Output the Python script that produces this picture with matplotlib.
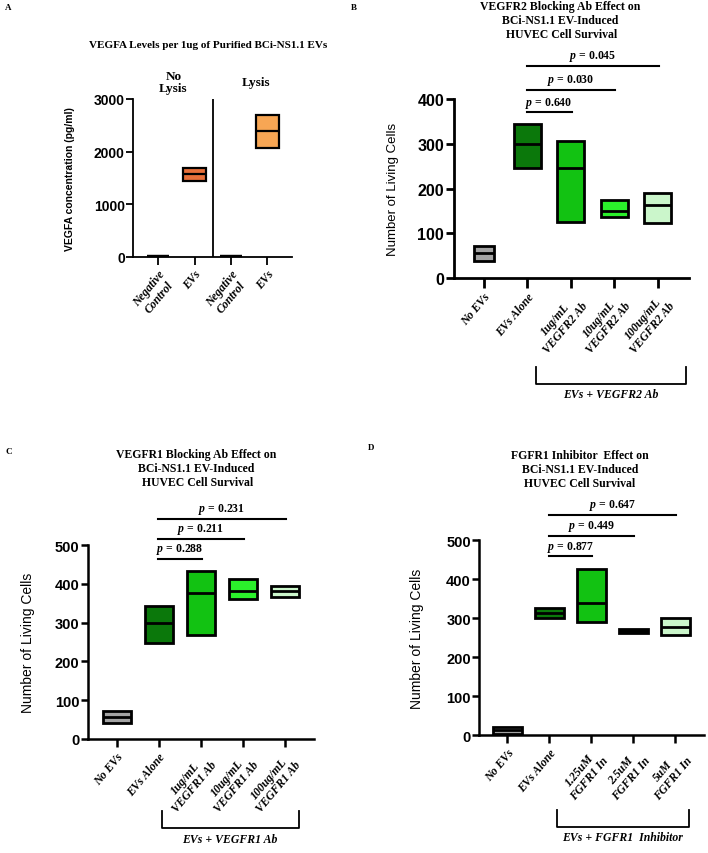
import matplotlib
matplotlib.use('Agg')
import matplotlib.pyplot as plt
import matplotlib.transforms as mtransforms

plt.rcParams['mathtext.fontset'] = 'custom'
plt.rcParams['mathtext.bfit'] = 'Liberation Serif:bold:italic'
plt.rcParams['mathtext.it'] = 'Liberation Serif:italic'
plt.rcParams['mathtext.rm'] = 'Liberation Serif:bold'

SERIF = 'Liberation Serif'
SANS = 'Liberation Sans'

# ---- panel A : VEGFA levels
a_title = 'VEGFA Levels per 1ug of Purified BCi-NS1.1 EVs'
a_labels = ['Negative\nControl', 'EVs', 'Negative\nControl', 'EVs']
a_low = [10, 1440, 10, 2070]
a_high = [25, 1690, 25, 2700]
a_mid = [18, 1565, 18, 2385]
a_colors = ['#000000', '#E8703A', '#000000', '#F7A654']
a_groups = ['No\nLysis', 'Lysis']

# ---- panel B : VEGFR2 blocking
b_title = 'VEGFR2 Blocking Ab Effect on\nBCi-NS1.1 EV-Induced\n HUVEC Cell Survival'
b_labels = ['No EVs', 'EVs Alone', '1ug/mL\nVEGFR2 Ab', '10ug/mL\nVEGFR2 Ab', '100ug/mL\nVEGFR2 Ab']
b_low = [39, 246, 126, 136, 124]
b_high = [72, 343, 307, 174, 190]
b_mid = [56, 299, 246, 150, 163]
b_p = ['0.640', '0.030', '0.045']
b_p_y = [370, 421, 474]
b_bracket = 'EVs + VEGFR2 Ab'

# ---- panel C : VEGFR1 blocking
c_title = 'VEGFR1 Blocking Ab Effect on\nBCi-NS1.1 EV-Induced\n HUVEC Cell Survival'
c_labels = ['No EVs', 'EVs Alone', '1ug/mL\nVEGFR1 Ab', '10ug/mL\nVEGFR1 Ab', '100ug/mL\nVEGFR1 Ab']
c_low = [41, 247, 268, 361, 367]
c_high = [72, 343, 434, 412, 395]
c_mid = [56, 300, 376, 382, 381]
c_p = ['0.288', '0.211', '0.231']
c_p_y = [464, 517, 568]
c_bracket = 'EVs + VEGFR1 Ab'

# ---- panel D : FGFR1 inhibitor
d_title = 'FGFR1 Inhibitor  Effect on\nBCi-NS1.1 EV-Induced\nHUVEC Cell Survival'
d_labels = ['No EVs', 'EVs Alone', '1.25uM\nFGFR1 In', '2.5uM\nFGFR1 In', '5uM\nFGFR1 In']
d_low = [2, 300, 289, 261, 257]
d_high = [22, 327, 425, 273, 299]
d_mid = [12, 313, 338, 267, 278]
d_p = ['0.877', '0.449', '0.647']
d_p_y = [458, 510, 565]
d_bracket = 'EVs + FGFR1  Inhibitor'

p_from = [1, 1, 1]
p_to = [2, 3, 4]

green_colors = ['#A3A3A3', '#0B780B', '#12C212', '#2BF02B', '#CBF6CB']


def style_axis(ax, lw, ticklen, fs):
    ax.spines['top'].set_visible(False)
    ax.spines['right'].set_visible(False)
    ax.spines['left'].set_linewidth(lw)
    ax.spines['bottom'].set_linewidth(lw)
    ax.tick_params(axis='y', length=ticklen, width=lw, pad=1, labelsize=fs)
    ax.tick_params(axis='x', length=ticklen + 1, width=lw, pad=2)
    for t in ax.get_yticklabels():
        t.set_fontfamily(SANS)
        t.set_fontweight('bold')


def floating_bars(ax, low, high, mid, colors, width, lw):
    pos = list(range(len(low)))
    heights = [h - l for l, h in zip(low, high)]
    ax.bar(pos, heights, bottom=low, width=width, color=colors,
           edgecolor='black', linewidth=lw, clip_on=False, zorder=3)
    for i in pos:
        w = width[i] if isinstance(width, list) else width
        ax.plot([i - w / 2, i + w / 2], [mid[i], mid[i]], color='black',
                lw=lw, solid_capstyle='butt', clip_on=False, zorder=4)


def xlabels(ax, labels, fs, rot):
    ax.set_xticks(range(len(labels)))
    ax.set_xticklabels(labels, rotation=rot, ha='right', rotation_mode='anchor',
                       fontfamily=SERIF, fontweight='bold', fontstyle='italic',
                       fontsize=fs, multialignment='center', linespacing=1.1)


def pvalues(ax, texts, ys):
    for t, y, i0, i1 in zip(texts, ys, p_from, p_to):
        x0 = i0 - 0.02
        x1 = i1 + 0.02
        ax.plot([x0, x1], [y, y], color='black', lw=1.5, clip_on=False)
        ax.annotate(r'$\mathbfit{p}$ = ' + t, xy=((x0 + x1) / 2, y), xytext=(0, 2),
                    textcoords='offset points', ha='center', va='bottom',
                    fontfamily=SERIF, fontweight='bold', fontsize=8.5,
                    annotation_clip=False)


def bracket(ax, x0, x1, ytop, ybot, ytext, text):
    tr = mtransforms.blended_transform_factory(ax.transData, ax.transAxes)
    ax.plot([x0, x0, x1, x1], [ytop, ybot, ybot, ytop], color='black', lw=1.3,
            transform=tr, clip_on=False)
    ax.text((x0 + x1) / 2, ytext, text, transform=tr, ha='center', va='top',
            fontfamily=SERIF, fontweight='bold', fontstyle='italic', fontsize=8.5)


fig = plt.figure(figsize=(7.08, 8.54), dpi=100)

# ---------------- A
axA = fig.add_axes([0.188, 0.698, 0.225, 0.185])
floating_bars(axA, a_low, a_high, a_mid, a_colors, 0.62, 1.6)
axA.set_xlim(-0.69, 3.69)
axA.set_ylim(0, 3000)
axA.set_yticks([0, 1000, 2000, 3000])
axA.axvline(1.5, color='black', lw=1.3)
style_axis(axA, 1.3, 5, 10)
xlabels(axA, a_labels, 8.5, 50)
axA.set_ylabel('VEGFA concentration (pg/ml)', fontfamily=SANS, fontweight='bold', fontsize=7.5)
axA.yaxis.set_label_coords(-0.365, 0.5)
trA = mtransforms.blended_transform_factory(axA.transData, axA.transAxes)
axA.text(0.42, 1.11, a_groups[0], transform=trA, ha='center', va='center',
         fontfamily=SERIF, fontweight='bold', fontsize=9.5, linespacing=1.0)
axA.text(2.68, 1.11, a_groups[1], transform=trA, ha='center', va='center',
         fontfamily=SERIF, fontweight='bold', fontsize=9.5)
fig.text(0.294, 1 - 45 / 854, a_title, ha='center', va='center',
         fontfamily=SERIF, fontweight='bold', fontsize=8)

# ---------------- B
axB = fig.add_axes([0.641, 0.673, 0.332, 0.21])
floating_bars(axB, b_low, b_high, b_mid, green_colors,
              [0.46, 0.62, 0.62, 0.62, 0.62], 2.0)
axB.set_xlim(-0.69, 4.71)
axB.set_ylim(0, 400)
axB.set_yticks([0, 100, 200, 300, 400])
style_axis(axB, 2.0, 6, 11.5)
xlabels(axB, b_labels, 8.5, 50)
axB.set_ylabel('Number of Living Cells', fontfamily=SANS, fontsize=9.5)
axB.yaxis.set_label_coords(-0.234, 0.5)
pvalues(axB, b_p, b_p_y)
bracket(axB, 1.2, 4.64, -0.497, -0.587, -0.61, b_bracket)
fig.text(560 / 708, 1 - 21 / 854, b_title, ha='center', va='center',
         fontfamily=SERIF, fontweight='bold', fontsize=8.5, linespacing=1.25)

# ---------------- C
axC = fig.add_axes([0.124, 0.1335, 0.319, 0.227])
floating_bars(axC, c_low, c_high, c_mid, green_colors, 0.67, 2.0)
axC.set_xlim(-0.69, 4.69)
axC.set_ylim(0, 500)
axC.set_yticks([0, 100, 200, 300, 400, 500])
style_axis(axC, 1.8, 5, 10.5)
xlabels(axC, c_labels, 8.5, 50)
axC.set_ylabel('Number of Living Cells', fontfamily=SANS, fontsize=10)
axC.yaxis.set_label_coords(-0.235, 0.5)
pvalues(axC, c_p, c_p_y)
bracket(axC, 1.07, 4.33, -0.371, -0.459, -0.485, c_bracket)
fig.text(196 / 708, 1 - 469 / 854, c_title, ha='center', va='center',
         fontfamily=SERIF, fontweight='bold', fontsize=8.5, linespacing=1.25)

# ---------------- D
axD = fig.add_axes([0.677, 0.138, 0.318, 0.2285])
floating_bars(axD, d_low, d_high, d_mid, green_colors, 0.67, 2.0)
axD.set_xlim(-0.67, 4.69)
axD.set_ylim(0, 500)
axD.set_yticks([0, 100, 200, 300, 400, 500])
style_axis(axD, 1.8, 5, 10.5)
xlabels(axD, d_labels, 8.5, 50)
axD.set_ylabel('Number of Living Cells', fontfamily=SANS, fontsize=10)
axD.yaxis.set_label_coords(-0.244, 0.5)
pvalues(axD, d_p, d_p_y)
bracket(axD, 1.17, 4.33, -0.385, -0.472, -0.49, d_bracket)
fig.text(580 / 708, 1 - 470 / 854, d_title, ha='center', va='center',
         fontfamily=SERIF, fontweight='bold', fontsize=8.5, linespacing=1.25)

# panel letters
for letter, x, y in [('A', 5, 8), ('B', 351, 8), ('C', 6, 452), ('D', 368, 448)]:
    fig.text(x / 708, 1 - y / 854, letter, ha='left', va='center',
             fontfamily=SERIF, fontweight='bold', fontsize=6.5)

fig.savefig('out.png', dpi=100)
